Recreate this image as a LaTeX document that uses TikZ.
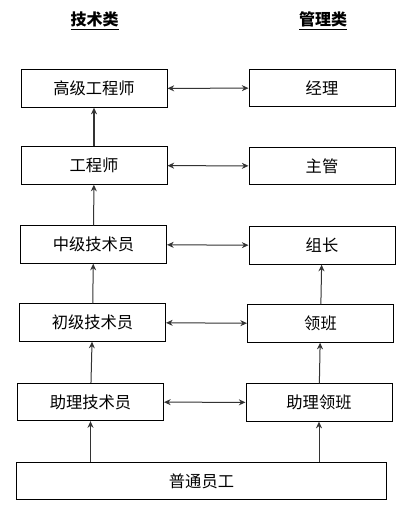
\documentclass[tikz,border=0pt]{standalone}
\usepackage{fontspec}
\setmainfont{Noto Sans CJK SC}
\usetikzlibrary{arrows.meta}

\tikzset{every picture/.style={line width=0.75pt}}
\tikzset{
  postbox/.style={draw, rectangle, minimum width=109.5pt, minimum height=28pt, inner sep=0.75pt, font=\fontsize{12.2pt}{14pt}\selectfont},
  wide/.style={minimum width=278pt},
  headtext/.style={inner sep=0.75pt, font=\bfseries\fontsize{12pt}{14pt}\selectfont},
  upline/.style={draw=black!80, -{Stealth[length=5pt,width=4.5pt]}},
  bothline/.style={draw=black!80, {Stealth[length=5pt,width=4.5pt]}-{Stealth[length=5pt,width=4.5pt]}}
}

\begin{document}
\begin{tikzpicture}[x=0.75pt,y=0.75pt,yscale=-1,xscale=1]
\useasboundingbox (0,0) rectangle (409,515);

% Text Node
\node [headtext] (jsl) at (94.5,21) {\underline{技术类}};
% Text Node
\node [headtext] (gll) at (323,21) {\underline{管理类}};

%Shape: Rectangle
\node [postbox] (gjgcs) at (94,88.5) {高级工程师};
\node [postbox] (jl) at (322,88) {经理};
%Shape: Rectangle
\node [postbox] (gcs) at (94,165.5) {工程师};
\node [postbox] (zg) at (322,166) {主管};
%Shape: Rectangle
\node [postbox] (zjjsy) at (93.5,244.5) {中级技术员};
\node [postbox] (zz) at (322,245.5) {组长};
%Shape: Rectangle
\node [postbox] (cjjsy) at (92.5,322.5) {初级技术员};
\node [postbox] (lb) at (320.5,323.5) {领班};
%Shape: Rectangle
\node [postbox] (zljsy) at (90.5,402) {助理技术员};
\node [postbox] (zllb) at (319,402.5) {助理领班};
%Shape: Rectangle
\node [postbox, wide] (ptyg) at (201.5,481) {普通员工};

%Straight Lines
\draw [upline, line width=1.6pt] (gcs) -- (gjgcs);
\draw [upline] (zjjsy) -- (gcs);
\draw [upline] (cjjsy) -- (zjjsy);
\draw [upline] (zljsy) -- (cjjsy);
\draw [upline] (ptyg.north -| zljsy.south) -- (zljsy);
%Straight Lines
\draw [upline] (lb) -- (zz);
\draw [upline] (zllb) -- (lb);
\draw [upline] (ptyg.north -| zllb.south) -- (zllb);
%Straight Lines
\draw [bothline] (gjgcs) -- (jl);
\draw [bothline] (gcs) -- (zg);
\draw [bothline] (zjjsy) -- (zz);
\draw [bothline] (cjjsy) -- (lb);
\draw [bothline] (zljsy) -- (zllb);

\end{tikzpicture}
\end{document}
